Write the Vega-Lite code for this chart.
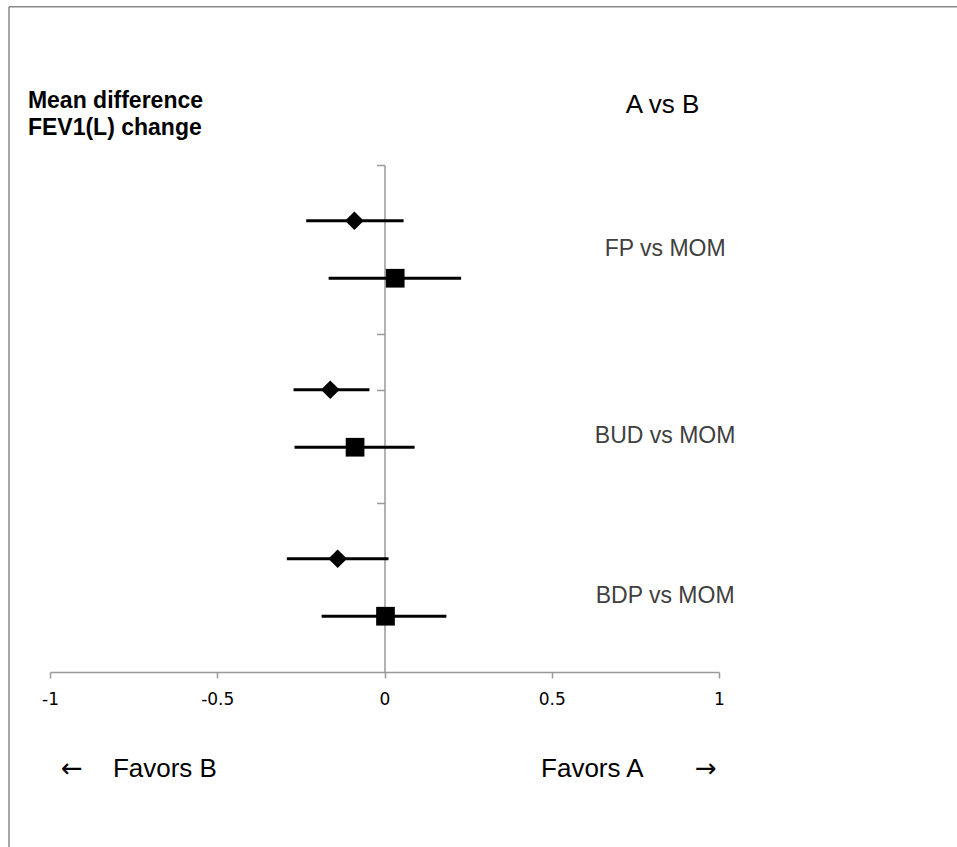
{
  "$schema": "https://vega.github.io/schema/vega-lite/v6.json",
  "autosize": {"type": "none"},
  "width": 669,
  "height": 507,
  "padding": {"left": 50, "top": 165, "right": 238, "bottom": 175},
  "background": "white",
  "config": {"view": {"stroke": null}, "font": "Liberation Sans"},
  "datasets": {
    "estimates": [
      {"comparison": "FP vs MOM", "marker": "diamond", "y": 2.67, "mean": -0.090, "lo": -0.234, "hi": 0.057},
      {"comparison": "FP vs MOM", "marker": "square", "y": 2.33, "mean": 0.032, "lo": -0.167, "hi": 0.229},
      {"comparison": "BUD vs MOM", "marker": "diamond", "y": 1.67, "mean": -0.162, "lo": -0.272, "hi": -0.045},
      {"comparison": "BUD vs MOM", "marker": "square", "y": 1.33, "mean": -0.088, "lo": -0.269, "hi": 0.090},
      {"comparison": "BDP vs MOM", "marker": "diamond", "y": 0.67, "mean": -0.140, "lo": -0.292, "hi": 0.012},
      {"comparison": "BDP vs MOM", "marker": "square", "y": 0.33, "mean": 0.003, "lo": -0.188, "hi": 0.185}
    ],
    "labels": [
      {"comparison": "FP vs MOM", "label_y": 2.462},
      {"comparison": "BUD vs MOM", "label_y": 1.355},
      {"comparison": "BDP vs MOM", "label_y": 0.408}
    ]
  },
  "layer": [
    {
      "data": {"name": "estimates"},
      "mark": {"type": "rule", "color": "black", "strokeWidth": 3},
      "encoding": {
        "x": {
          "field": "lo", "type": "quantitative", "title": null,
          "scale": {"domain": [-1, 1], "nice": false, "zero": false},
          "axis": {
            "orient": "bottom",
            "values": [-1, -0.5, 0, 0.5, 1],
            "labelExpr": "'' + datum.value",
            "title": null, "grid": false,
            "domainColor": "#999999", "domainWidth": 1.5,
            "tickColor": "#999999", "tickWidth": 1.5, "tickSize": 6,
            "labelFont": "DejaVu Sans", "labelFontSize": 17, "labelColor": "#000000",
            "labelPadding": 13, "labelFlush": false, "labelOverlap": false
          }
        },
        "x2": {"field": "hi"},
        "y": {
          "field": "y", "type": "quantitative", "title": null,
          "scale": {"domain": [0, 3], "nice": false, "zero": false},
          "axis": {
            "orient": "left",
            "values": [1, 1.67, 2, 3],
            "labels": false, "title": null, "grid": false,
            "offset": -334.5,
            "domainColor": "#999999", "domainWidth": 1.5,
            "tickColor": "#999999", "tickWidth": 1.5, "tickSize": 8
          }
        }
      }
    },
    {
      "data": {"name": "estimates"},
      "mark": {"type": "point", "filled": true, "color": "black", "opacity": 1, "size": 350, "strokeWidth": 0},
      "encoding": {
        "x": {"field": "mean", "type": "quantitative", "title": null, "axis": {"title": null}},
        "y": {"field": "y", "type": "quantitative", "title": null, "axis": {"title": null}},
        "shape": {"field": "marker", "type": "nominal", "scale": {"domain": ["diamond", "square"], "range": ["diamond", "square"]}, "legend": null}
      }
    },
    {
      "data": {"values": [{}]},
      "mark": {"type": "rule", "color": "#888888", "strokeWidth": 1.5},
      "encoding": {
        "x": {"datum": -1.1226, "title": null, "axis": {"title": null}},
        "y": {"datum": 3.9367, "title": null, "axis": {"title": null}},
        "y2": {"datum": -1.3}
      }
    },
    {
      "data": {"values": [{}]},
      "mark": {"type": "rule", "color": "#888888", "strokeWidth": 1.5},
      "encoding": {
        "x": {"datum": -1.1226, "title": null, "axis": {"title": null}},
        "x2": {"datum": 1.9},
        "y": {"datum": 3.9367, "title": null, "axis": {"title": null}}
      }
    },
    {
      "data": {"name": "labels"},
      "mark": {"type": "text", "align": "center", "baseline": "alphabetic", "fontSize": 23, "color": "#404040", "font": "Liberation Sans"},
      "encoding": {
        "x": {"datum": 0.839, "title": null, "axis": {"title": null}},
        "y": {"field": "label_y", "type": "quantitative", "title": null, "axis": {"title": null}},
        "text": {"field": "comparison"}
      }
    },
    {
      "data": {"values": [{}]},
      "mark": {"type": "text", "align": "left", "baseline": "alphabetic", "fontSize": 23, "fontWeight": "bold", "color": "black", "font": "Liberation Sans", "text": "Mean difference"},
      "encoding": {"x": {"datum": -1.066, "title": null, "axis": {"title": null}}, "y": {"datum": 3.337, "title": null, "axis": {"title": null}}}
    },
    {
      "data": {"values": [{}]},
      "mark": {"type": "text", "align": "left", "baseline": "alphabetic", "fontSize": 23, "fontWeight": "bold", "color": "black", "font": "Liberation Sans", "text": "FEV1(L) change"},
      "encoding": {"x": {"datum": -1.066, "title": null, "axis": {"title": null}}, "y": {"datum": 3.178, "title": null, "axis": {"title": null}}}
    },
    {
      "data": {"values": [{}]},
      "mark": {"type": "text", "align": "center", "baseline": "alphabetic", "fontSize": 26, "color": "black", "font": "Liberation Sans", "text": "A vs B"},
      "encoding": {"x": {"datum": 0.831, "title": null, "axis": {"title": null}}, "y": {"datum": 3.308, "title": null, "axis": {"title": null}}}
    },
    {
      "data": {"values": [{}]},
      "mark": {"type": "text", "align": "left", "baseline": "alphabetic", "fontSize": 26, "color": "black", "font": "DejaVu Sans", "text": "←"},
      "encoding": {"x": {"datum": -0.967, "title": null, "axis": {"title": null}}, "y": {"datum": -0.621, "title": null, "axis": {"title": null}}}
    },
    {
      "data": {"values": [{}]},
      "mark": {"type": "text", "align": "left", "baseline": "alphabetic", "fontSize": 26, "color": "black", "font": "Liberation Sans", "text": "Favors B"},
      "encoding": {"x": {"datum": -0.812, "title": null, "axis": {"title": null}}, "y": {"datum": -0.621, "title": null, "axis": {"title": null}}}
    },
    {
      "data": {"values": [{}]},
      "mark": {"type": "text", "align": "left", "baseline": "alphabetic", "fontSize": 26, "color": "black", "font": "Liberation Sans", "text": "Favors A"},
      "encoding": {"x": {"datum": 0.468, "title": null, "axis": {"title": null}}, "y": {"datum": -0.621, "title": null, "axis": {"title": null}}}
    },
    {
      "data": {"values": [{}]},
      "mark": {"type": "text", "align": "left", "baseline": "alphabetic", "fontSize": 26, "color": "black", "font": "DejaVu Sans", "text": "→"},
      "encoding": {"x": {"datum": 0.928, "title": null, "axis": {"title": null}}, "y": {"datum": -0.621, "title": null, "axis": {"title": null}}}
    }
  ]
}
